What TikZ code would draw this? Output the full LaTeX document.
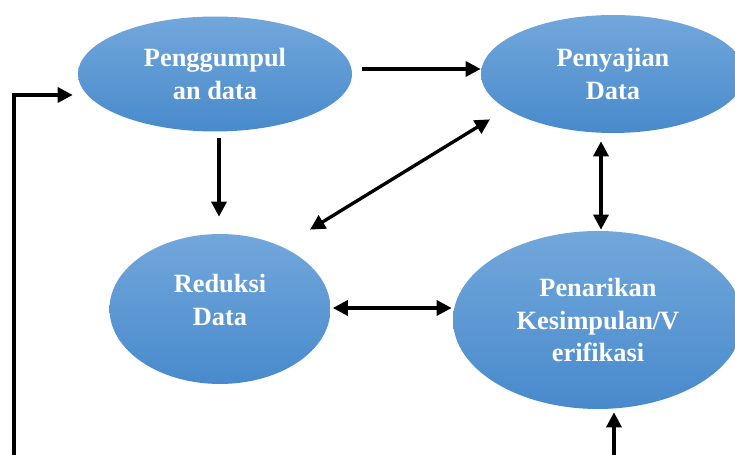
\documentclass[tikz,border=0pt]{standalone}
\usepackage{fontspec}
\setmainfont{Liberation Serif}
\usetikzlibrary{positioning,arrows.meta,calc,shapes.geometric}

\definecolor{blobtop}{RGB}{114,167,219}
\definecolor{blobbot}{RGB}{72,138,204}

\tikzset{
  blobtext/.style={text=white, align=center, font=\fontsize{15pt}{18.5pt}\selectfont\bfseries},
  blob/.style={ellipse, inner sep=0pt, top color=blobtop, bottom color=blobbot, blobtext},
  arr/.style={line width=1.9pt, -{Triangle[length=8.5pt,width=8.5pt]}},
  dbl/.style={line width=1.9pt, {Triangle[length=8.5pt,width=8.5pt]}-{Triangle[length=8.5pt,width=8.5pt]}}
}

\begin{document}
\begin{tikzpicture}[x=0.02cm, y=-0.02cm]
% pixel grid of the sketch: 735 x 455, y grows downwards
\useasboundingbox (0,0) rectangle (735,455);
\node[blob, minimum width=5.48cm, minimum height=2.3cm] (kumpul) at (215,74) {Penggumpul\\an data};
\node[blob, minimum width=5.28cm, minimum height=2.36cm] (saji) at (613,74) {Penyajian\\Data};
\node[blob, minimum width=4.42cm, minimum height=3cm,
  label={[blobtext, yshift=5pt]center:{Reduksi\\Data}}] (reduksi) at (220,309) {};
\node[blob, minimum width=5.8cm, minimum height=3.56cm] (tarik) at (598,320) {Penarikan\\Kesimpulan/V\\erifikasi};

\coordinate (loopin) at (14,462);
\coordinate (tarikin) at (614,462);

\draw[arr] ($(kumpul.east)+(10,-5)$) -- ($(saji.west)+(0,-5)$);
\draw[arr] ($(kumpul.south)+(4,6)$) -- ($(reduksi.north)+(-1,-17)$);
\draw[dbl] ($(reduksi.north)+(90,-4)$) -- ($(saji.south)+(-123,-14)$);
\draw[dbl] ($(saji.south)+(-12,8)$) -- ($(tarik.north)+(3,-1)$);
\draw[dbl] ($(reduksi.east)+(2,-1)$) -- ($(tarik.west)+(-1,-12)$);
\draw[arr] (loopin) |- ($(kumpul.west)+(-5,21)$);
\draw[arr] (tarikin) -- ($(tarik.south)+(16,3)$);
\end{tikzpicture}
\end{document}
